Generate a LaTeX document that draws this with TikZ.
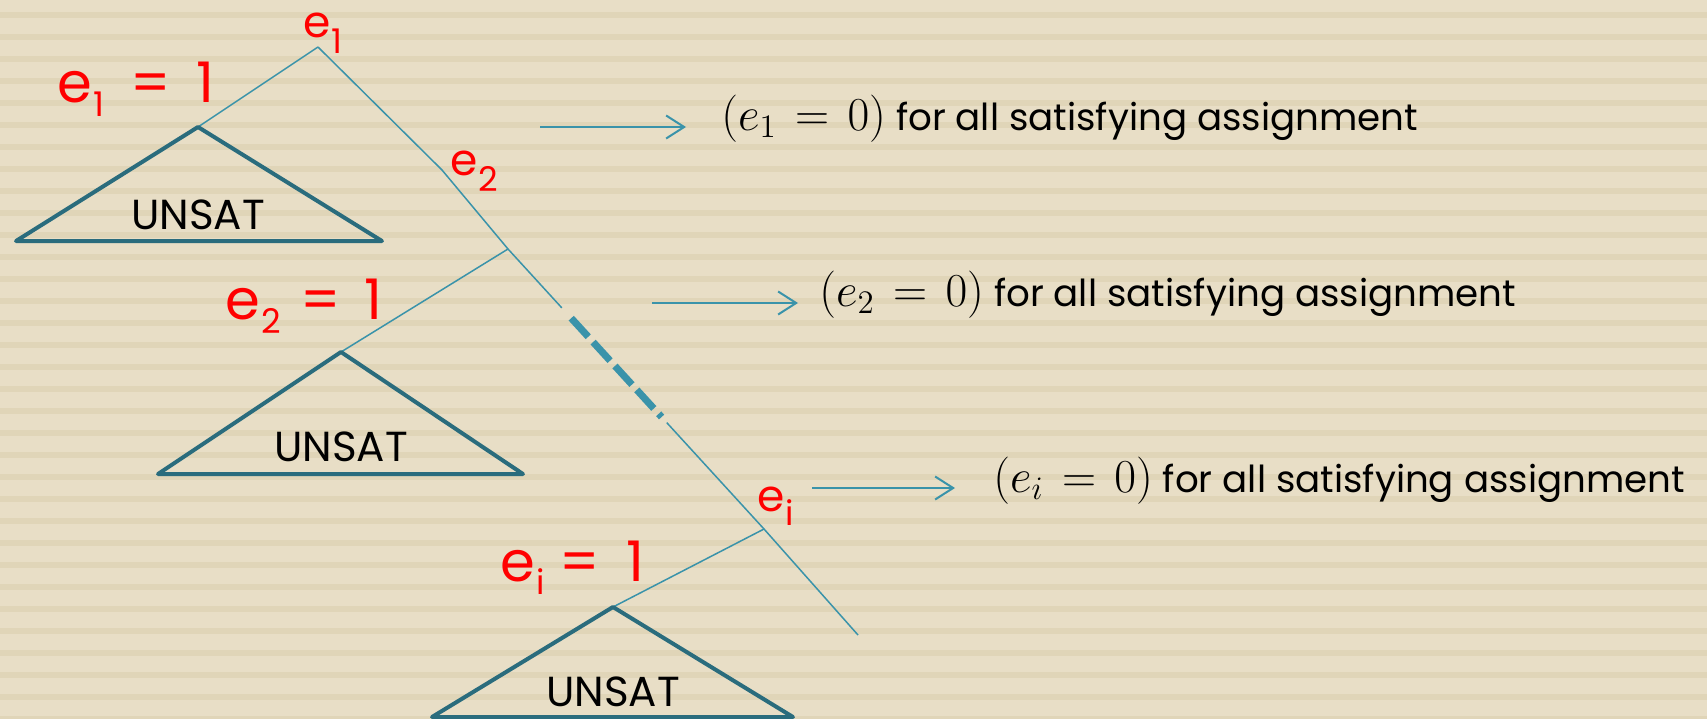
\documentclass[tikz,border=0pt]{standalone}
\usepackage{fontspec}
\setmainfont{Poppins}
\usetikzlibrary{arrows.meta,calc}

\definecolor{bgbeige}{RGB}{232,222,198}
\definecolor{bgstripe}{RGB}{224,213,184}
\definecolor{treeline}{RGB}{58,147,170}
\definecolor{tridark}{RGB}{42,108,125}

% lowered red subscript
\newcommand\redsub[2]{\kern0.5pt\raisebox{-#1}{\fontsize{17}{20}\selectfont #2}}
% math part of a claim
\newcommand\claimmath[1]{\scalebox{1.14}{\fontsize{20.74}{25}\selectfont\thickmuskip=7mu $(#1)$}}

\begin{document}
\begin{tikzpicture}[x=0.5pt, y=-0.5pt,
  branch/.style={draw=treeline, line width=0.75pt},
  subtree/.style={draw=tridark, line width=2pt, line join=round},
  arr/.style={draw=treeline, line width=1pt, -{Straight Barb[length=9pt,width=11.5pt]}},
  varlbl/.style={text=red, font=\fontsize{22}{26}\selectfont, inner sep=0pt, anchor=base west},
  setlbl/.style={text=red, font=\fontsize{28}{32}\selectfont, inner sep=0pt, anchor=base west},
  unsat/.style={font=\fontsize{21}{25}\selectfont, inner sep=0pt},
  claim/.style={font=\fontsize{18.6}{22}\selectfont, inner sep=0pt, anchor=base west}]

  % background
  \useasboundingbox (0,0) rectangle (1707,718);
  \fill[bgbeige] (0,0) rectangle (1707,718);
  \foreach \k in {0,...,32}
    \fill[bgstripe] (0,12+22*\k) rectangle (1707,18+22*\k);

  % main path
  \coordinate (A1) at (318,47);
  \coordinate (E2) at (442,170);
  \coordinate (A2) at (508,249);
  \coordinate (Ai) at (764,529);
  \coordinate (End) at (858,635);

  % subtrees
  \coordinate (T1) at (198,127);  \coordinate (T1l) at (16,241);  \coordinate (T1r) at (382,241);
  \coordinate (T2) at (341,352);  \coordinate (T2l) at (158,474); \coordinate (T2r) at (523,474);
  \coordinate (T3) at (613,607);  \coordinate (T3l) at (432,717); \coordinate (T3r) at (793,717);

  \draw[branch] (A1) -- (E2) -- (A2) -- ($(A2)!0.21!(Ai)$);
  \draw[treeline, line width=3.5pt, dash pattern=on 12.6pt off 3.6pt]
    ($(A2)!0.247!(Ai)$) -- ($(A2)!0.6!(Ai)$);
  \draw[branch] ($(A2)!0.62!(Ai)$) -- (Ai) -- (End);

  \draw[branch] (A1) -- (T1);
  \draw[branch] (A2) -- (T2);
  \draw[branch] (Ai) -- (T3);

  \draw[subtree] (T1) -- (T1l) -- (T1r) -- cycle;
  \draw[subtree] (T2) -- (T2l) -- (T2r) -- cycle;
  \draw[subtree] (T3) -- (T3l) -- (T3r) -- cycle;
  \node[unsat] (U1) at (198,215) {UNSAT};
  \node[unsat] (U2) at (341,447) {UNSAT};
  \node[unsat] (U3) at (613,692) {UNSAT};

  % red labels
  \node[varlbl] (L1) at (303,37) {e\redsub{8pt}{1}};
  \node[varlbl] (L2) at (450,175) {e\redsub{8pt}{2}};
  \node[varlbl] (Li) at (757,511) {e\redsub{7pt}{i}};
  \node[setlbl] (S1) at (57,102) {e\redsub{7pt}{1}\hspace{6pt} = \hspace{5pt}1};
  \node[setlbl] (S2) at (225,319) {e\redsub{7pt}{2}\hspace{2.5pt} = \hspace{4pt}1};
  \node[setlbl] (Si) at (500,581) {e\redsub{6.5pt}{i} = \hspace{6pt}1};

  % consequences
  \node[claim] (R1) at (721,130) {\claimmath{e_1 = 0} for all satisfying assignment};
  \node[claim] (R2) at (819,306) {\claimmath{e_2 = 0} for all satisfying assignment};
  \node[claim] (R3) at (993,492) {\claimmath{e_i = 0} for all satisfying assignment};
  \coordinate (B1) at (540,127);
  \coordinate (B2) at (652,303);
  \coordinate (B3) at (812,488);
  \draw[arr, shorten >=17.5pt] (B1) -- (B1 -| R1.west);
  \draw[arr, shorten >=10.5pt] (B2) -- (B2 -| R2.west);
  \draw[arr, shorten >=19pt] (B3) -- (B3 -| R3.west);
\end{tikzpicture}
\end{document}
